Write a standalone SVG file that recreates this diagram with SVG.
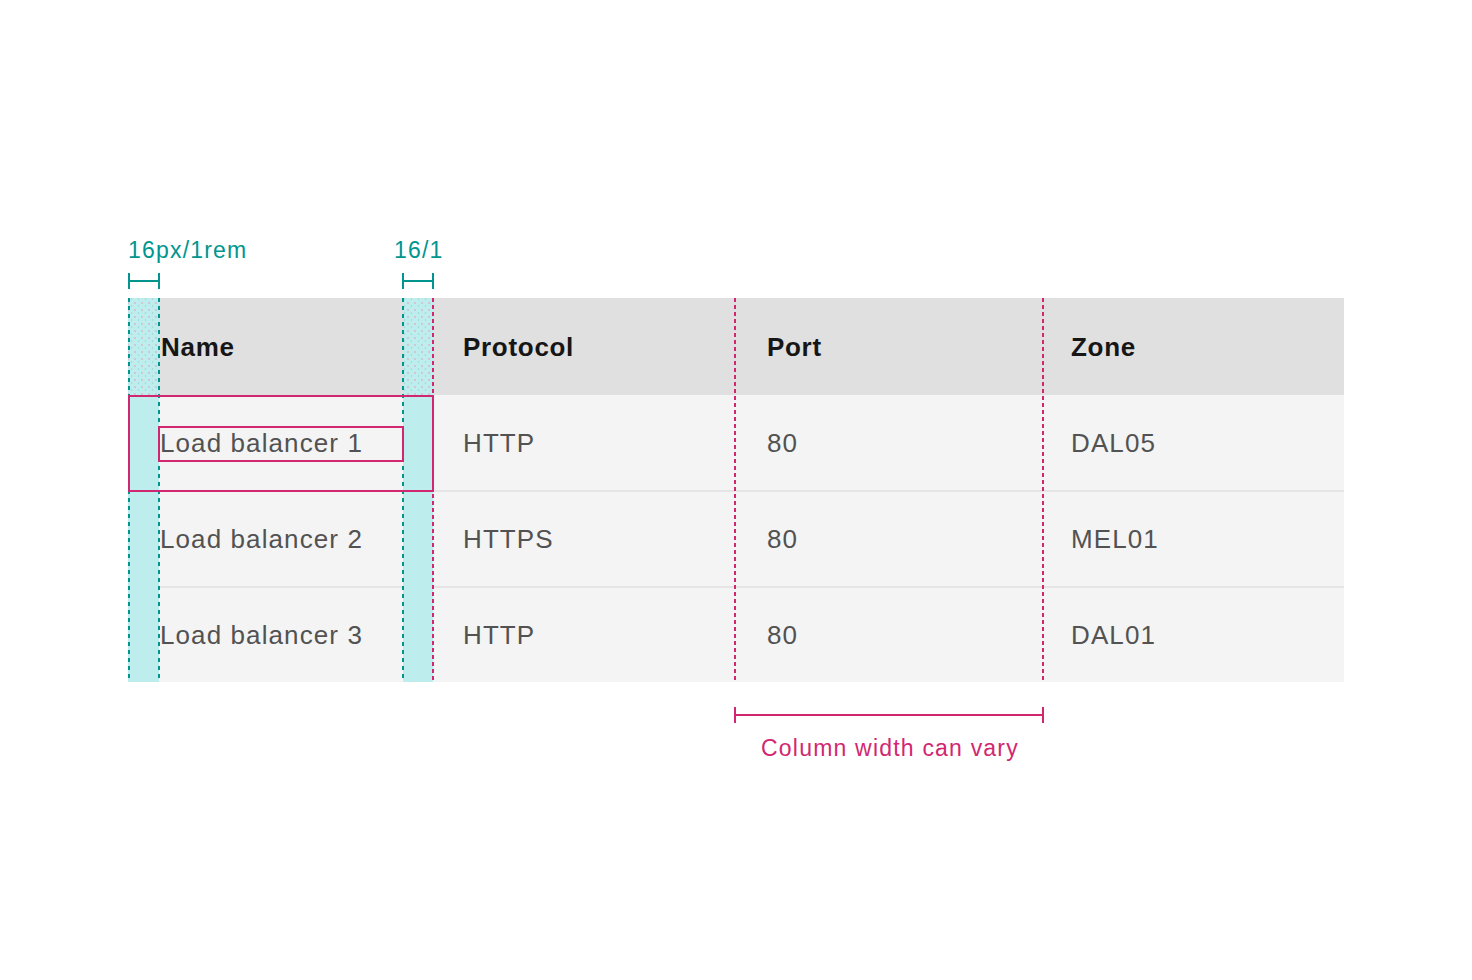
<svg xmlns="http://www.w3.org/2000/svg" width="1472" height="980" viewBox="0 0 1472 980">
<defs>
<style>
.hd{font-family:"Liberation Sans",Arial,sans-serif;font-size:26px;font-weight:bold;fill:#161616;letter-spacing:0.7px}
.bd{font-family:"Liberation Sans",Arial,sans-serif;font-size:26px;fill:#525252;letter-spacing:1.1px}
.tl{font-family:"Liberation Sans",Arial,sans-serif;font-size:23px;fill:#00968f;letter-spacing:1.2px}
.pk{font-family:"Liberation Sans",Arial,sans-serif;font-size:23px;fill:#d12771;letter-spacing:1.2px}
.tdash{stroke:#00968f;stroke-width:2;stroke-dasharray:4 4;fill:none}
.pdash{stroke:#d12771;stroke-width:2;stroke-dasharray:4 3;fill:none}
.tbr{stroke:#00968f;stroke-width:2;fill:none}
.pbr{stroke:#d12771;stroke-width:2;fill:none}
</style>
<pattern id="dots" width="7" height="7" patternUnits="userSpaceOnUse">
<rect width="7" height="7" fill="#bdeeed"/>
<circle cx="2" cy="2" r="0.8" fill="#e09ab8"/>
<circle cx="5.5" cy="5" r="0.7" fill="#9ccfcf"/>
</pattern>
</defs>
<rect width="1472" height="980" fill="#ffffff"/>
<g id="table">
<rect x="128" y="298" width="1216" height="97" fill="#e0e0e0"/>
<rect x="128" y="395" width="1216" height="287" fill="#f4f4f4"/>
<line x1="128" y1="491" x2="1344" y2="491" stroke="#e0e0e0" stroke-width="1.5"/>
<line x1="128" y1="587" x2="1344" y2="587" stroke="#e0e0e0" stroke-width="1.5"/>
</g>
<g id="padding-columns">
<rect x="128" y="298" width="31" height="97" fill="url(#dots)"/>
<rect x="403" y="298" width="30" height="97" fill="url(#dots)"/>
<rect x="128" y="395" width="31" height="287" fill="#bdeeed"/>
<rect x="403" y="395" width="30" height="287" fill="#bdeeed"/>
</g>
<g id="header-text">
<text class="hd" x="161" y="356">Name</text>
<text class="hd" x="463" y="356">Protocol</text>
<text class="hd" x="767" y="356">Port</text>
<text class="hd" x="1071" y="356">Zone</text>
</g>
<g id="body-text">
<text class="bd" x="160" y="452">Load balancer 1</text>
<text class="bd" x="463" y="452">HTTP</text>
<text class="bd" x="767" y="452">80</text>
<text class="bd" x="1071" y="452">DAL05</text>
<text class="bd" x="160" y="548">Load balancer 2</text>
<text class="bd" x="463" y="548">HTTPS</text>
<text class="bd" x="767" y="548">80</text>
<text class="bd" x="1071" y="548">MEL01</text>
<text class="bd" x="160" y="644">Load balancer 3</text>
<text class="bd" x="463" y="644">HTTP</text>
<text class="bd" x="767" y="644">80</text>
<text class="bd" x="1071" y="644">DAL01</text>
</g>
<g id="connectors">
<line class="tdash" x1="129" y1="298" x2="129" y2="682"/>
<line class="tdash" x1="159" y1="298" x2="159" y2="682"/>
<line class="tdash" x1="403" y1="298" x2="403" y2="682"/>
<line class="pdash" x1="433" y1="298" x2="433" y2="682"/>
<line class="pdash" x1="735" y1="298" x2="735" y2="682"/>
<line class="pdash" x1="1043" y1="298" x2="1043" y2="682"/>
<rect class="pbr" x="129" y="396" width="304" height="95"/>
<rect class="pbr" x="159" y="427" width="244" height="34"/>
<path class="tbr" d="M129 273V289M159 273V289M129 281H159"/>
<path class="tbr" d="M403 273V289M433 273V289M403 281H433"/>
<path class="pbr" d="M735 707V723M1043 707V723M735 715H1043"/>
</g>
<g id="labels">
<text class="tl" x="128" y="258">16px/1rem</text>
<text class="tl" x="394" y="258">16/1</text>
<text class="pk" x="890" y="756" text-anchor="middle">Column width can vary</text>
</g>
</svg>
